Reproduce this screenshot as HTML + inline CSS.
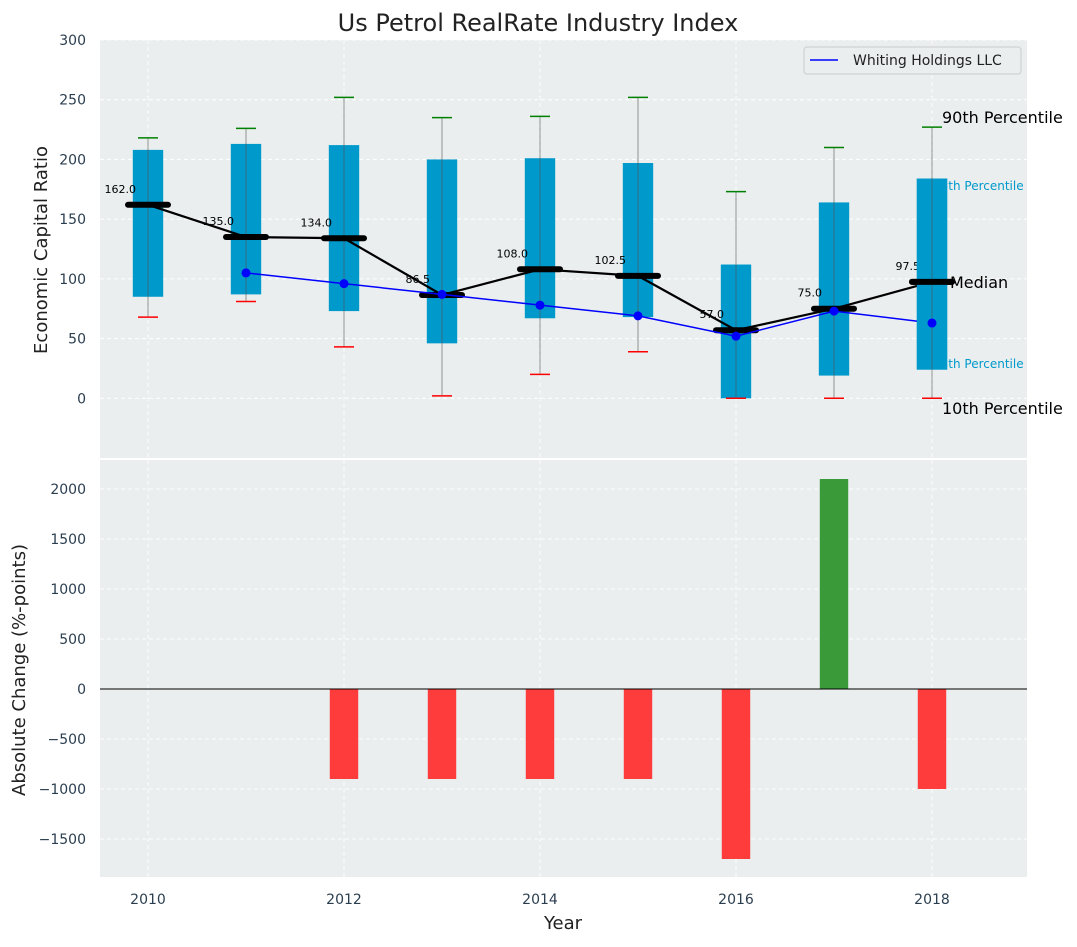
<!DOCTYPE html>
<html><head><meta charset="utf-8"><style>
body{margin:0;background:#fff;font-family:"Liberation Sans","DejaVu Sans",sans-serif}
svg text{font-family:"DejaVu Sans","Liberation Sans",sans-serif}
</style></head><body>
<svg id="c" width="1077" height="942" viewBox="0 0 1077 942" xmlns="http://www.w3.org/2000/svg"></svg>
<script>
const years=[2010,2011,2012,2013,2014,2015,2016,2017,2018];
const p10=[68,81,43,2,20,39,0,0,0];
const p25=[85,87,73,46,67,68,0,19,24];
const med=[162,135,134,86.5,108,102.5,57,75,97.5];
const p75=[208,213,212,200,201,197,112,164,184];
const p90=[218,226,252,235,236,252,173,210,227];
const companyYears=[2011,2012,2013,2014,2015,2016,2017,2018];
const company=[105,96,87,78,69,52,73,63];
const changeYears=[2012,2013,2014,2015,2016,2017,2018];
const changes=[-900,-900,-900,-900,-1700,2100,-1000];
const topTicks=[0,50,100,150,200,250,300];
const botTicks=[-1500,-1000,-500,0,500,1000,1500,2000];
const xTicks=[2010,2012,2014,2016,2018];

const svg=document.getElementById('c');const NS='http://www.w3.org/2000/svg';
function el(t,a,txt){const e=document.createElementNS(NS,t);for(const k in a)e.setAttribute(k,a[k]);if(txt!==undefined)e.textContent=txt;svg.appendChild(e);return e;}
const L=100,R=1027;
const x=v=>148+(v-2010)*98;
const T1=40,B1=458,y1=v=>T1+(300-v)/350*(B1-T1);
const T2=460,B2=877,y2=v=>689-v*0.1;
const yr=v=>98*v;

let e;
e=el('rect',{x:L,y:T1,width:R-L,height:B1-T1,fill:'#eaeeee'});

e=el('rect',{x:L,y:T2,width:R-L,height:B2-T2,fill:'#eaeeee'});

xTicks.forEach(t=>{
 e=el('line',{x1:x(t),x2:x(t),y1:T1,y2:B1,stroke:'#fff','stroke-dasharray':'4,3','stroke-width':1});
 
 e=el('line',{x1:x(t),x2:x(t),y1:T2,y2:B2,stroke:'#fff','stroke-dasharray':'4,3','stroke-width':1});
 
 e=el('text',{x:x(t),y:904,'text-anchor':'middle','font-size':14,fill:'#2b3e50'},t);
 
});
topTicks.forEach(t=>{
 e=el('line',{x1:L,x2:R,y1:y1(t),y2:y1(t),stroke:'#fff','stroke-dasharray':'4,3'});
 
 e=el('text',{x:86,y:y1(t)+5,'text-anchor':'end','font-size':14,fill:'#2b3e50'},t);
 
});
botTicks.forEach(t=>{
 e=el('line',{x1:L,x2:R,y1:y2(t),y2:y2(t),stroke:'#fff','stroke-dasharray':'4,3'});
 
 e=el('text',{x:86,y:y2(t)+5,'text-anchor':'end','font-size':14,fill:'#2b3e50'},(t<0?'\u2212'+(-t):t));
 
});
years.forEach((yv,i)=>{
 const cx=x(yv),w=yr(1)*0.31;
 e=el('rect',{x:cx-w/2,y:y1(p75[i]),width:w,height:y1(p25[i])-y1(p75[i]),fill:'#0099cc'});
 
 e=el('line',{x1:cx,x2:cx,y1:y1(p90[i]),y2:y1(p10[i]),stroke:'#555','stroke-opacity':0.6,'stroke-width':1});
 
 e=el('line',{x1:cx-10,x2:cx+10,y1:y1(p90[i]),y2:y1(p90[i]),stroke:'green','stroke-width':1.5});
 
 e=el('line',{x1:cx-10,x2:cx+10,y1:y1(p10[i]),y2:y1(p10[i]),stroke:'red','stroke-width':1.5});
 
});
e=el('polyline',{points:years.map((v,i)=>x(v)+','+y1(med[i])).join(' '),fill:'none',stroke:'#000','stroke-width':2.2});

years.forEach((yv,i)=>{
 const cx=x(yv);
 e=el('line',{x1:cx-20,x2:cx+20,y1:y1(med[i]),y2:y1(med[i]),stroke:'#000','stroke-width':6,'stroke-linecap':'round'});
 
 e=el('text',{x:cx-12,y:y1(med[i])-12,'text-anchor':'end','font-size':11,fill:'#000'},med[i].toFixed(1));
 
});
e=el('polyline',{points:companyYears.map((v,i)=>x(v)+','+y1(company[i])).join(' '),fill:'none',stroke:'#0000ff','stroke-width':1.5});

companyYears.forEach((v,i)=>{
 e=el('circle',{cx:x(v),cy:y1(company[i]),r:4.5,fill:'#0000ff'});
 
});
const lx=x(2018);
[['90th Percentile',942,123,16,'#000'],['75th Percentile',933,190,12,'#0099cc'],['Median',950,288,16,'#000'],['25th Percentile',933,368,12,'#0099cc'],['10th Percentile',942,414,16,'#000']].forEach(a=>{
 e=el('text',{x:a[1],y:a[2],'font-size':a[3],fill:a[4]},a[0]);
 
});
e=el('rect',{x:lx-yr(1)*0.155,y:y1(p75[8]),width:yr(1)*0.31,height:y1(p25[8])-y1(p75[8]),fill:'#0099cc'});

e=el('line',{x1:lx,x2:lx,y1:y1(p75[8]),y2:y1(p25[8]),stroke:'#555','stroke-opacity':0.6});

e=el('line',{x1:lx-20,x2:lx+20,y1:y1(med[8]),y2:y1(med[8]),stroke:'#000','stroke-width':6,'stroke-linecap':'round'});

e=el('circle',{cx:lx,cy:y1(company[7]),r:4.5,fill:'#0000ff'});

e=el('rect',{x:804,y:47,width:217,height:27,fill:'#eaeeee',stroke:'#ccc',rx:3});

e=el('line',{x1:810,x2:838,y1:60,y2:60,stroke:'#0000ff','stroke-width':1.5});

e=el('text',{x:853,y:65,'font-size':14,fill:'#222'},'Whiting Holdings LLC');

changeYears.forEach((v,i)=>{
 const w=yr(1)*0.29,c=changes[i];
 e=el('rect',{x:x(v)-w/2,y:Math.min(y2(0),y2(c)),width:w,height:Math.abs(y2(c)-y2(0)),fill:c>=0?'#3a9a3a':'#ff3c3c'});
 
});
e=el('line',{x1:L,x2:R,y1:y2(0),y2:y2(0),stroke:'#000','stroke-width':1});

e=el('text',{x:538,y:31,'text-anchor':'middle','font-size':24,fill:'#222'},'Us Petrol RealRate Industry Index');

e=el('text',{x:563,y:929,'text-anchor':'middle','font-size':18,fill:'#222'},'Year');

e=el('text',{x:0,y:0,'text-anchor':'middle','font-size':18,fill:'#222',transform:'translate(47,250) rotate(-90)'},'Economic Capital Ratio');

e=el('text',{x:0,y:0,'text-anchor':'middle','font-size':18,fill:'#222',transform:'translate(25,670) rotate(-90)'},'Absolute Change (%-points)');

</script>
</body></html>
